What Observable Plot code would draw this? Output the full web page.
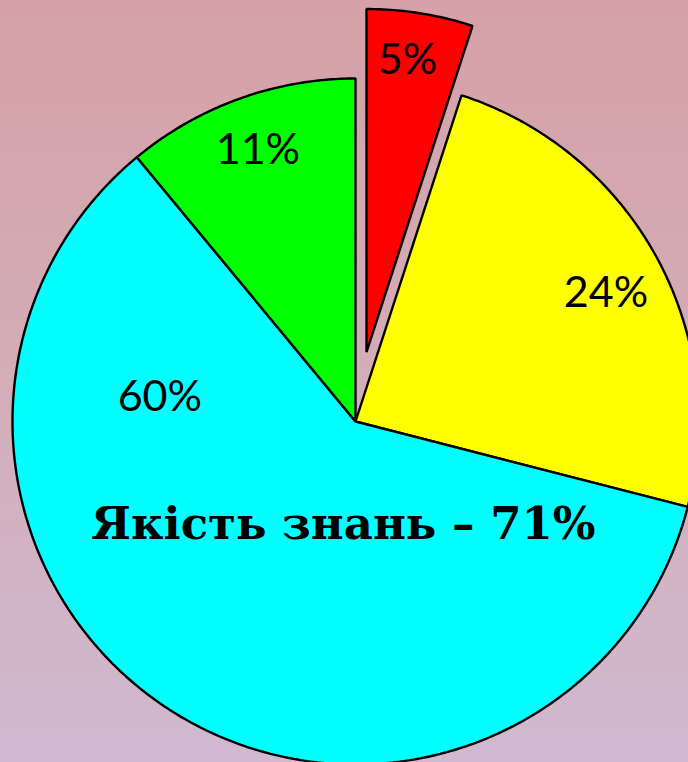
<!DOCTYPE html>
<html>
<head>
<meta charset="utf-8">
<script src="https://cdn.jsdelivr.net/npm/d3@7"></script>
<script src="https://cdn.jsdelivr.net/npm/@observablehq/plot@0.6"></script>
<style>
  html, body { margin: 0; padding: 0; }
  body { width: 688px; height: 762px; overflow: hidden; }
  #chart svg { display: block; background: linear-gradient(to bottom, #d5a1a6 0%, #d3adb8 50%, #d0b9d1 100%); }
</style>
</head>
<body>
<div id="chart"></div>
<script>
// Data
const categories = ["початковий", "середній", "достатній", "високий"];
const values = [5, 24, 60, 11];
const labels = ["5%", "24%", "60%", "11%"];
const colors = ["#ff0000", "#ffff00", "#00ffff", "#00ff00"];
const exploded = [true, false, false, false];
const title = "Якість знань – 71%";

// Geometry (unit circle, radius 1)
const W = 688, H = 762;
const R = 343;            // pixel radius
const cx = 355, cy = 421; // pixel center
const explode = 0.205;

const pie = d3.pie().sort(null).value(d => d.value);
const arcs = pie(categories.map((c, i) => ({cat: c, value: values[i], label: labels[i], ex: exploded[i]})));

const pts = [];
const labelPts = [];
arcs.forEach((a, i) => {
  const mid = (a.startAngle + a.endAngle) / 2;
  const ox = a.data.ex ? explode * Math.sin(mid) : 0;
  const oy = a.data.ex ? explode * Math.cos(mid) : 0;
  pts.push({cat: a.data.cat, x: ox, y: oy});
  const n = Math.max(2, Math.ceil((a.endAngle - a.startAngle) / 0.01));
  for (let k = 0; k <= n; k++) {
    const t = a.startAngle + (a.endAngle - a.startAngle) * k / n;
    pts.push({cat: a.data.cat, x: ox + Math.sin(t), y: oy + Math.cos(t)});
  }
  // label placement
  let la = mid, lr = 0.84;
  if (i === 2) { la = 2 * Math.PI * 0.77; lr = 0.575; }
  if (i === 1) { la = mid + 0.03; lr = 0.82; }
  if (i === 0) { la = mid - 0.018; lr = 0.86; }
  labelPts.push({label: a.data.label, x: ox + lr * Math.sin(la), y: oy + lr * Math.cos(la)});
});

const chart = Plot.plot({
  width: W,
  height: H,
  margin: 0,
  x: {domain: [-cx / R, (W - cx) / R], axis: null},
  y: {domain: [-(H - cy) / R, cy / R], axis: null},
  color: {type: "ordinal", domain: categories, range: colors},
  style: {overflow: "hidden"},
  marks: [
    Plot.line(pts, {x: "x", y: "y", z: "cat", fill: "cat", stroke: "black", strokeWidth: 2.4, curve: "linear-closed", strokeLinejoin: "miter"}),
    Plot.text(labelPts, {x: "x", y: "y", text: "label", fontSize: 43, fontFamily: "Lato", fill: "black"}),
    Plot.text([title], {x: () => -0.035, y: () => -0.30, text: d => d, fontSize: 45, fontWeight: "bold", fontFamily: "DejaVu Serif", fill: "black"})
  ]
});
document.getElementById("chart").appendChild(chart);
</script>
</body>
</html>
